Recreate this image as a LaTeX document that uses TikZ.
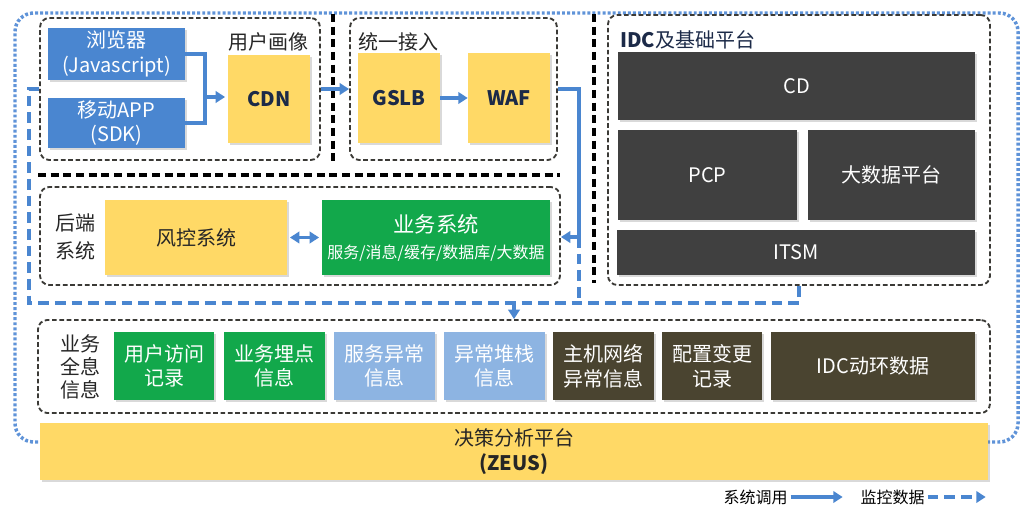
\documentclass[tikz,border=0pt]{standalone}
\usepackage{fontspec}
\setmainfont{Noto Sans CJK SC}
\usetikzlibrary{fit,shadows,arrows.meta,calc}
\definecolor{cblue}{HTML}{4A86D0}
\definecolor{ylw}{HTML}{FFD966}
\definecolor{grn}{HTML}{12A84B}
\definecolor{lblue}{HTML}{8DB4E2}
\definecolor{dgray}{HTML}{404040}
\definecolor{olive}{HTML}{4A4430}
\definecolor{navy}{HTML}{1C2A48}
\definecolor{frm}{HTML}{3B3A36}
\definecolor{dotc}{HTML}{5F93D8}
\tikzset{
 sz/.style 2 args={minimum width={#1*0.75pt}, minimum height={#2*0.75pt}},
 bx/.style={inner sep=0, align=center, font=\fontsize{15}{18.5}\selectfont,
   drop shadow={shadow xshift=1.2pt, shadow yshift=-1.2pt, opacity=0.3}},
 bluebx/.style={bx, fill=cblue, text=white},
 ylwbx/.style={bx, fill=ylw, text=navy},
 grnbx/.style={bx, fill=grn, text=white},
 lbbx/.style={bx, fill=lblue, text=white},
 dkbx/.style={bx, fill=dgray, text=white},
 olbx/.style={bx, fill=olive, text=white},
 boldtxt/.style={font=\bfseries\fontsize{15}{18}\selectfont},
 frame/.style={inner sep=0, draw=frm, line width=1.4pt, dash pattern=on 3.5pt off 2pt, rounded corners=7pt},
 title/.style={font=\fontsize{15}{18}\selectfont, text=black!85, inner sep=0},
 sepline/.style={black, line width=2.3pt, dash pattern=on 6pt off 3.5pt},
 call/.style={draw=cblue, line width=2.3pt, -{Triangle[length=7pt,width=8.5pt]}},
 callline/.style={draw=cblue, line width=2.3pt},
 mon/.style={call, dash pattern=on 8pt off 4.5pt},
 monline/.style={callline, dash pattern=on 8pt off 4.5pt},
 dotline/.style={draw=dotc, line width=2.6pt, dash pattern=on 2.2pt off 1.6pt, rounded corners=14pt},
}
\begin{document}
\begin{tikzpicture}[x=0.75pt,y=-0.75pt]
\useasboundingbox (0,0) rectangle (1030,509);
% outer dotted loop
\draw[dotline] (38,442) -| (15,13) -| (1018,442) -- (988,442);

% separators
\draw[sepline] (333,14) -- (333,165);
\draw[sepline] (594,14) -- (594,283);
\draw[sepline] (38,175) -- (560,175);

% user group
\node[frame, fit={(40,18)(320,160)}] (ubox) {};
\node[title] (ut) at (268,42) {用户画像};
\node[bluebx, sz={137}{52}] (br) at (116.5,54) {浏览器\\(Javascript)};
\node[bluebx, sz={137}{50}] (mob) at (116.5,123) {移动APP\\(SDK)};
\node[ylwbx, boldtxt, sz={82}{88}] (cdn) at (269,99) {CDN};

% access group
\node[frame, fit={(350,18)(557,160)}] (abox) {};
\node[title] (at) at (398,42) {统一接入};
\node[ylwbx, boldtxt, sz={82}{90}] (gslb) at (399,98) {GSLB};
\node[ylwbx, boldtxt, sz={82}{90}] (waf) at (509,98) {WAF};

% IDC group
\node[frame, fit={(608,15)(990,285)}] (idc) {};
\node[title, anchor=west, text=navy] (it) at (620,40) {\textbf{IDC}及基础平台};
\node[dkbx, sz={357}{68}] (cd) at (796.5,86) {CD};
\node[dkbx, sz={179}{90}] (pcp) at (707.5,175) {PCP};
\node[dkbx, sz={167}{90}] (bd) at (891.5,175) {大数据平台};
\node[dkbx, sz={358}{45}] (itsm) at (796,252.5) {ITSM};

% backend group
\node[frame, fit={(40,187)(560,285)}] (bbox) {};
\node[title, align=center, font=\fontsize{15}{21}\selectfont] (bt) at (75,237) {后端\\系统};
\node[ylwbx, text=black!85, sz={182}{75}] (risk) at (196,237.5) {风控系统};
\node[grnbx, sz={228}{75}] (biz) at (436,237.5) {{\fontsize{16}{20}\selectfont 业务系统}\\[1pt]{\fontsize{12}{14}\selectfont 服务/消息/缓存/数据库/大数据}};

% holistic info group
\node[frame, fit={(38,320)(990,413)}] (hbox) {};
\node[title, align=center, font=\fontsize{15}{17}\selectfont] (ht) at (80,367) {业务\\全息\\信息};
\node[grnbx, sz={100}{68}] (h1) at (164,366) {用户访问\\记录};
\node[grnbx, sz={101}{68}] (h2) at (274.5,366) {业务埋点\\信息};
\node[lbbx, sz={101}{68}] (h3) at (384.5,366) {服务异常\\信息};
\node[lbbx, sz={101}{68}] (h4) at (494.5,366) {异常堆栈\\信息};
\node[olbx, sz={101}{68}] (h5) at (603.5,366) {主机网络\\异常信息};
\node[olbx, sz={100}{68}] (h6) at (712,366) {配置变更\\记录};
\node[olbx, sz={204}{68}] (h7) at (873,366) {IDC动环数据};

% ZEUS
\node[ylwbx, text=black!85, sz={948}{57}] (zeus) at (514,451.5) {决策分析平台\\\textbf{(ZEUS)}};

% system calls
\coordinate (j) at (205,97);
\draw[callline] (br.east) -| (j);
\draw[callline] (mob.east) -| (j);
\draw[call] (j) -- ([xshift=-2pt]cdn.west |- j);
\draw[call] (ubox.east) -- (abox.west);
\draw[call] (gslb) -- (waf);
\coordinate (r1) at (579,237);
\draw[call] (abox.east) -| (r1) -- (bbox.east |- r1);
\draw[call, {Triangle[length=7pt,width=8.5pt]}-{Triangle[length=7pt,width=8.5pt]}, shorten <=2pt, shorten >=2pt] (risk) -- (biz);

% monitoring data
\coordinate (m1) at (29,303);
\coordinate (m2) at (514,303);
\draw[monline] (ubox.west) -| (m1) -| (idc.south);
\draw[monline] (r1) -- (r1 |- m1);
\draw[mon] (m2) -- (hbox.north);

% legend
\node[font=\fontsize{12}{14}\selectfont, anchor=east, inner sep=0] (lg1) at (788,497) {系统调用};
\draw[call] ([xshift=2pt]lg1.east) -- ++(52,0);
\node[font=\fontsize{12}{14}\selectfont, anchor=east, inner sep=0] (lg2) at (925,497) {监控数据};
\draw[mon] ([xshift=2pt]lg2.east) -- ++(58,0);
\end{tikzpicture}
\end{document}
